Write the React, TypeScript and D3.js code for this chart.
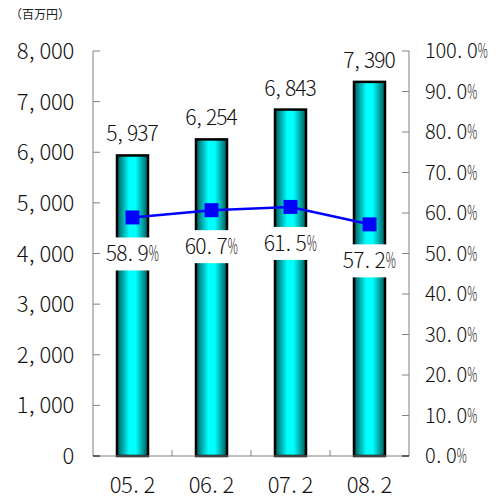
import * as React from "react";
import { scaleBand, scaleLinear, line } from "d3";

const categories = ["05.2", "06.2", "07.2", "08.2"];
const sales = [5937, 6254, 6843, 7390];
const ratio = [58.9, 60.7, 61.5, 57.2];
const leftTicks = [0, 1000, 2000, 3000, 4000, 5000, 6000, 7000, 8000];
const rightTicks = [0, 10, 20, 30, 40, 50, 60, 70, 80, 90, 100];
const unitLabel = "（百万円）";

const W = 500;
const H = 501;
const left = 93;
const right = 409;
const top = 51;
const bottom = 456;
const font = "'Noto Sans CJK JP', sans-serif";
const axisColor = "#808080";
const ink = "#111";

// the original uses a half-width monospaced font, so every character
// gets its own fixed cell here
function Mono({
  x,
  y,
  s,
  cell,
  size,
  anchor = "start",
}: {
  x: number;
  y: number;
  s: string;
  cell: number;
  size: number;
  anchor?: "start" | "middle" | "end";
}) {
  const total = s.length * cell;
  const start = anchor === "end" ? x - total : anchor === "middle" ? x - total / 2 : x;
  const chars = s.split("");
  const pos = chars.map((ch, i) => {
    const c = start + cell * (i + 0.5);
    return ch === "," || ch === "." ? c - cell * 0.2 : c;
  });
  const main = chars.map((ch, i) => ({ ch, x: pos[i] })).filter((d) => d.ch !== "%");
  const pct = chars.map((ch, i) => ({ ch, x: pos[i] })).filter((d) => d.ch === "%");
  return (
    <g fontSize={size} fill={ink}>
      <text x={main.map((d) => d.x).join(" ")} y={y} textAnchor="middle">
        {main.map((d) => d.ch).join("")}
      </text>
      {pct.map((d, i) => (
        <text key={i} x={d.x} y={y} textAnchor="middle" textLength={cell * 0.95} lengthAdjust="spacingAndGlyphs">
          %
        </text>
      ))}
    </g>
  );
}

export default function App() {
  const x = scaleBand<string>().domain(categories).range([left, right]).paddingInner(0).paddingOuter(0);
  const yL = scaleLinear().domain([0, 8000]).range([bottom, top]);
  const yR = scaleLinear().domain([0, 100]).range([bottom, top]);
  const barW = 31;
  const cx = (c: string) => (x(c) as number) + x.bandwidth() / 2;

  const ratioLine = line<number>()
    .x((_, i) => cx(categories[i]))
    .y((v) => yR(v));

  const fmt = (v: number) => v.toLocaleString("en-US");

  return (
    <svg
      width={W}
      height={H}
      style={{ position: "absolute", left: 0, top: 0, background: "#fff" }}
      fontFamily={font}
      fontWeight={300}
    >
      <defs>
        <linearGradient id="barGrad" x1="0" x2="1" y1="0" y2="0">
          <stop offset="0%" stopColor="#005a5a" />
          <stop offset="40%" stopColor="#00ffff" />
          <stop offset="60%" stopColor="#00ffff" />
          <stop offset="100%" stopColor="#005a5a" />
        </linearGradient>
      </defs>

      <text x={10} y={19} fontSize={12} fill="#222" fontWeight={400}>
        {unitLabel}
      </text>

      {/* bars */}
      {categories.map((c, i) => (
        <rect
          key={c}
          x={cx(c) - barW / 2}
          y={yL(sales[i])}
          width={barW}
          height={bottom - yL(sales[i])}
          fill="url(#barGrad)"
          stroke="#000"
          strokeWidth={2.5}
        />
      ))}

      {/* bar value labels */}
      {categories.map((c, i) => (
        <Mono key={c} x={cx(c)} y={yL(sales[i]) - 14} s={fmt(sales[i])} cell={10.3} size={21} anchor="middle" />
      ))}

      {/* axes */}
      <line x1={left} x2={left} y1={top} y2={bottom} stroke={axisColor} />
      <line x1={right} x2={right} y1={top} y2={bottom} stroke={axisColor} />
      <line x1={left} x2={right} y1={bottom} y2={bottom} stroke={axisColor} />
      {leftTicks.map((t) => (
        <g key={t}>
          <line x1={left} x2={left + 7} y1={yL(t)} y2={yL(t)} stroke={t === 0 ? "#000" : axisColor} />
          <Mono x={74} y={yL(t) + 8} s={fmt(t)} cell={11.4} size={22} anchor="end" />
        </g>
      ))}
      {rightTicks.map((t) => (
        <g key={t}>
          <line x1={right - 7} x2={right} y1={yR(t)} y2={yR(t)} stroke={t === 0 ? "#000" : axisColor} />
          <Mono x={425} y={yR(t) + 7} s={t.toFixed(1) + "%"} cell={10.5} size={20} />
        </g>
      ))}
      {categories.slice(1).map((c) => (
        <line key={c} x1={x(c)} x2={x(c)} y1={bottom - 6} y2={bottom} stroke={axisColor} />
      ))}
      {categories.map((c) => (
        <Mono key={c} x={cx(c)} y={493} s={c} cell={11.3} size={22} anchor="middle" />
      ))}

      {/* ratio line */}
      <path d={ratioLine(ratio) || ""} fill="none" stroke="#0000ff" strokeWidth={2.5} />
      {categories.map((c, i) => (
        <rect key={c} x={cx(c) - 7} y={yR(ratio[i]) - 7} width={14} height={14} fill="#0000ff" />
      ))}

      {/* ratio labels */}
      {categories.map((c, i) => (
        <g key={c}>
          <rect x={cx(c) - 28} y={yR(ratio[i]) + 20} width={56} height={33} fill="#fff" />
          <Mono x={cx(c)} y={yR(ratio[i]) + 44} s={ratio[i].toFixed(1) + "%"} cell={10.6} size={21} anchor="middle" />
        </g>
      ))}
    </svg>
  );
}
